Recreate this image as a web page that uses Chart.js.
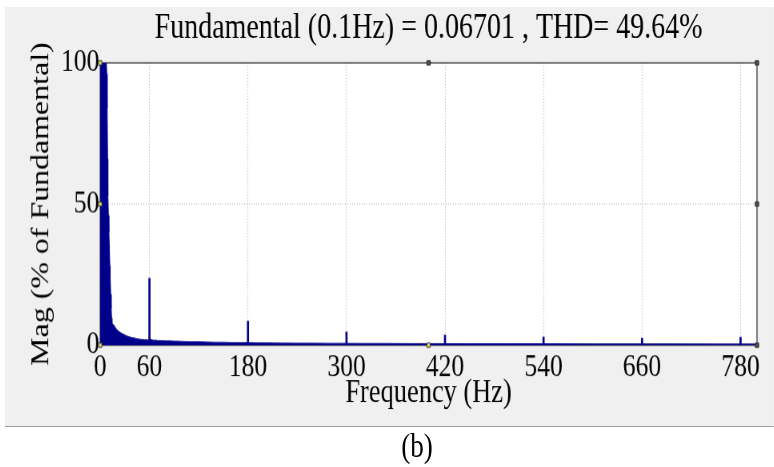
<!DOCTYPE html>
<html>
<head>
<meta charset="utf-8">
<script src="https://cdn.jsdelivr.net/npm/chart.js@4.4.1/dist/chart.umd.min.js"></script>
<style>
  html, body { margin: 0; padding: 0; background: #fff; }
  #wrap { position: absolute; left: 5px; top: 7px; width: 961px; height: 460px; transform: scaleX(0.8); transform-origin: 0 0; }
  #chart { display: block; background: #f0f0f0; border-bottom: 1px solid #a0a0a0; }
  #caption { position: absolute; left: 415px; top: 420px; width: 200px; text-align: center; font: 34px "Liberation Serif"; line-height: 38px; color: #000; }
</style>
</head>
<body>
<div id="wrap">
  <canvas id="chart" width="961" height="420"></canvas>
  <div id="caption">(b)</div>
</div>
<script>
// spectrum envelope (Hz, % of fundamental)
const envFreq = [0, 7.5, 8, 8.5, 9, 9.4, 10, 10.6, 11.2, 11.8, 12.2, 12.8, 13.4, 13.9, 14.4, 15, 16, 17, 18, 19, 20, 22, 24, 26, 28, 30, 32, 34, 36, 38, 40, 42, 44, 46, 48, 50, 52, 54, 56, 58, 60, 62, 64, 66, 68, 70, 75, 80, 85, 90, 95, 100, 110, 120, 130, 140, 150, 160, 170, 180, 190, 200, 220, 240, 260, 280, 300, 320, 350, 380, 400, 450, 500, 550, 600, 650, 700, 750, 800];
const envMag = [100, 100, 96, 84, 66, 53, 46, 40, 34, 28, 24, 18, 13, 9.5, 8, 7.6, 7.2, 7.0, 6.4, 6.0, 5.6, 5.0, 4.6, 4.2, 3.9, 3.6, 3.3, 3.1, 2.9, 2.7, 2.6, 2.5, 2.3, 2.2, 2.1, 2.0, 2.0, 1.9, 1.9, 1.8, 1.9, 2.0, 1.8, 1.7, 1.8, 1.6, 1.6, 1.5, 1.5, 1.4, 1.4, 1.3, 1.2, 1.2, 1.1, 1.0, 1.0, 0.9, 0.9, 0.9, 0.8, 0.8, 0.75, 0.7, 0.7, 0.65, 0.65, 0.6, 0.6, 0.55, 0.55, 0.5, 0.5, 0.5, 0.45, 0.45, 0.45, 0.4, 0.4];
// harmonic spikes
const peakFreq = [60, 180, 300, 420, 540, 660, 780];
const peakMag = [23.7, 8.5, 4.7, 3.6, 2.9, 2.5, 2.8];
// axis ticks
const xTicks = [0, 60, 180, 300, 420, 540, 660, 780];
const yTicks = [0, 50, 100];
// axes markers of the plot box
const lightMarkFreq = [0, 0, 0, 400];
const lightMarkMag = [0, 50, 100, 0];
const darkMarkFreq = [400, 800, 800, 800];
const darkMarkMag = [100, 100, 50, 0];

const toXY = (xs, ys) => xs.map((x, i) => ({ x: x, y: ys[i] }));
const blue = "#00008b";

Chart.defaults.font.family = "'Liberation Serif', 'Times New Roman', serif";
Chart.defaults.color = "#000";

const plotFrame = {
  id: "plotFrame",
  beforeDraw(chart) {
    const { ctx, chartArea: a } = chart;
    ctx.save();
    ctx.fillStyle = "#fff";
    ctx.fillRect(a.left, a.top, a.right - a.left, a.bottom - a.top);
    ctx.restore();
  },
  beforeDatasetsDraw(chart) {
    const { ctx, chartArea: a } = chart;
    ctx.save();
    ctx.strokeStyle = "#555";
    ctx.lineWidth = 1.5;
    ctx.strokeRect(a.left, a.top, a.right - a.left, a.bottom - a.top);
    ctx.restore();
  },
};

new Chart(document.getElementById("chart"), {
  type: "line",
  data: {
    datasets: [
      {
        type: "scatter",
        data: toXY(lightMarkFreq, lightMarkMag),
        pointStyle: "rect",
        radius: 3,
        backgroundColor: "#e8e07a",
        borderColor: "#333",
        borderWidth: 1,
        clip: false,
        order: 0,
      },
      {
        type: "scatter",
        data: toXY(darkMarkFreq, darkMarkMag),
        pointStyle: "rect",
        radius: 3,
        backgroundColor: "#555",
        borderColor: "#222",
        borderWidth: 1,
        clip: false,
        order: 0,
      },
      {
        type: "bar",
        data: toXY(peakFreq, peakMag),
        backgroundColor: blue,
        barThickness: 2,
        order: 1,
      },
      {
        data: toXY(envFreq, envMag),
        borderColor: blue,
        backgroundColor: blue,
        borderWidth: 1,
        pointRadius: 0,
        fill: "origin",
        tension: 0,
        order: 2,
      },
    ],
  },
  options: {
    responsive: false,
    animation: false,
    layout: { padding: { left: 0, right: 21, top: 0, bottom: 0 } },
    plugins: {
      legend: { display: false },
      tooltip: { enabled: false },
      title: {
        display: true,
        fullSize: false,
        text: "Fundamental (0.1Hz) = 0.06701 , THD= 49.64%",
        font: { size: 35, weight: "normal", lineHeight: 1.1 },
        color: "#000",
        padding: { top: 3, bottom: 14.5 },
      },
    },
    scales: {
      x: {
        type: "linear",
        min: 0,
        max: 800,
        offset: false,
        afterBuildTicks: (axis) => {
          axis.ticks = xTicks.map((v) => ({ value: v }));
        },
        afterFit: (axis) => {
          axis.height = 81;
        },
        grid: {
          offset: false,
          drawTicks: false,
          color: (c) => (c.tick && c.tick.value === 0 ? "transparent" : "#b4b4b4"),
        },
        border: { display: false, dash: [1, 2] },
        ticks: { font: { size: 32 }, padding: 3, maxRotation: 0, autoSkip: false },
        title: {
          display: true,
          text: "Frequency (Hz)",
          font: { size: 33 },
          padding: { top: 0, bottom: 13 },
        },
      },
      y: {
        min: 0,
        max: 100,
        afterBuildTicks: (axis) => {
          axis.ticks = yTicks.map((v) => ({ value: v }));
        },
        afterFit: (axis) => {
          axis.width = 119;
        },
        grid: {
          drawTicks: false,
          color: (c) => (c.tick && (c.tick.value === 0 || c.tick.value === 100) ? "transparent" : "#b4b4b4"),
        },
        border: { display: false, dash: [1, 2] },
        ticks: { font: { size: 32 }, padding: 1 },
        title: {
          display: true,
          text: "Mag (% of Fundamental)",
          font: { size: 32 },
          padding: { top: 26, bottom: 0 },
        },
      },
    },
  },
  plugins: [plotFrame],
});
</script>
</body>
</html>
